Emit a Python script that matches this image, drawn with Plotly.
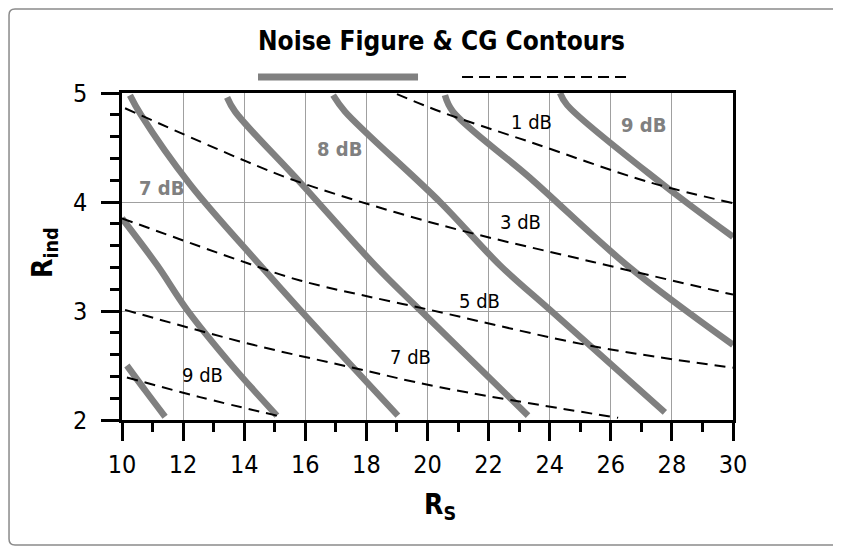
import plotly.graph_objects as go

# Noise figure contours (thick gray), (Rs, Rind) pairs
nf_6db_x = [10.16, 10.79, 11.41]
nf_6db_y = [2.50, 2.26, 2.03]
nf_a_x = [10.0, 11.15, 12.13, 13.60, 15.07]
nf_a_y = [3.85, 3.42, 3.01, 2.50, 2.04]
nf_b_x = [10.26, 10.62, 12.23, 14.52, 15.83, 19.03]
nf_b_y = [4.98, 4.80, 4.16, 3.42, 3.01, 2.04]
nf_c_x = [13.44, 13.70, 15.83, 18.28, 19.75, 23.29]
nf_c_y = [4.96, 4.83, 4.18, 3.42, 3.01, 2.04]
nf_d_x = [16.91, 17.30, 20.41, 22.37, 24.01, 27.77]
nf_d_y = [4.98, 4.83, 4.00, 3.42, 3.01, 2.07]
nf_e_x = [20.57, 20.83, 23.36, 26.53, 30.0]
nf_e_y = [4.98, 4.83, 4.22, 3.42, 2.69]
nf_f_x = [24.34, 24.57, 27.71, 30.0]
nf_f_y = [5.0, 4.89, 4.16, 3.68]

# Conversion gain contours (dashed black)
cg_1db_x = [19.0, 20.41, 23.36, 27.28, 30.0]
cg_1db_y = [4.99, 4.83, 4.55, 4.18, 3.99]
cg_3db_x = [10.1, 14.09, 15.83, 20.41, 25.42, 30.0]
cg_3db_y = [4.86, 4.37, 4.18, 3.79, 3.45, 3.15]
cg_5db_x = [10.0, 14.09, 15.83, 20.08, 25.55, 30.0]
cg_5db_y = [3.85, 3.44, 3.28, 3.01, 2.67, 2.48]
cg_7db_x = [10.1, 14.29, 17.56, 20.41, 26.24]
cg_7db_y = [3.01, 2.69, 2.48, 2.30, 2.02]
cg_9db_x = [10.16, 12.55, 15.07]
cg_9db_y = [2.39, 2.21, 2.04]

nf_labels = ["6 dB", "7 dB", "8 dB", "9 dB"]
nf_label_x = [8.79, 11.30, 17.12, 27.08]
nf_label_y = [2.55, 4.13, 4.49, 4.71]
cg_labels = ["1 dB", "3 dB", "5 dB", "7 dB", "9 dB"]
cg_label_x = [23.42, 23.03, 21.70, 19.45, 12.62]
cg_label_y = [4.73, 3.82, 3.09, 2.58, 2.41]

FONT = "Noto Sans Condensed, DejaVu Sans Condensed, Liberation Sans Narrow, sans-serif"
GRAY = "#808080"

fig = go.Figure()

for xs, ys in [(nf_6db_x, nf_6db_y), (nf_a_x, nf_a_y), (nf_b_x, nf_b_y),
               (nf_c_x, nf_c_y), (nf_d_x, nf_d_y), (nf_e_x, nf_e_y),
               (nf_f_x, nf_f_y)]:
    fig.add_trace(go.Scatter(
        x=xs, y=ys, mode="lines",
        line=dict(color=GRAY, width=6.5, shape="spline"),
        showlegend=False, hoverinfo="skip",
    ))

for xs, ys in [(cg_1db_x, cg_1db_y), (cg_3db_x, cg_3db_y), (cg_5db_x, cg_5db_y),
               (cg_7db_x, cg_7db_y), (cg_9db_x, cg_9db_y)]:
    fig.add_trace(go.Scatter(
        x=xs, y=ys, mode="lines",
        line=dict(color="black", width=2, dash="11px,7px", shape="spline"),
        showlegend=False, hoverinfo="skip",
    ))

annotations = []
for t, x, y in zip(nf_labels, nf_label_x, nf_label_y):
    annotations.append(dict(x=x, y=y, xref="x", yref="y", text="<b>%s</b>" % t,
                            showarrow=False, font=dict(family=FONT, size=20, color=GRAY)))
for t, x, y in zip(cg_labels, cg_label_x, cg_label_y):
    annotations.append(dict(x=x, y=y, xref="x", yref="y", text=t,
                            showarrow=False, font=dict(family=FONT, size=20, color="black")))

# title and axis titles
annotations.append(dict(x=0.523, y=1.159, xref="paper", yref="paper",
                        xanchor="center", yanchor="middle",
                        text="<b>Noise Figure &amp; CG Contours</b>", showarrow=False,
                        font=dict(family=FONT, size=26, color="black")))
annotations.append(dict(x=0.52, y=-0.266, xref="paper", yref="paper",
                        xanchor="center", yanchor="middle",
                        text="<b>R<sub>S</sub></b>", showarrow=False,
                        font=dict(family=FONT, size=28, color="black")))
annotations.append(dict(x=-0.126, y=0.511, xref="paper", yref="paper",
                        xanchor="center", yanchor="middle",
                        text="<b>R<sub>ind</sub></b>", showarrow=False, textangle=-90,
                        font=dict(family=FONT, size=28, color="black")))

# legend lines and page frame (rounded corners)
x0, x1, y0, y1 = -0.1849, 1.1718, -0.3823, 1.2569
rx, ry = 0.0098, 0.0183
frame = (f"M {x0 + rx},{y1} L {x1 - rx},{y1} Q {x1},{y1} {x1},{y1 - ry} "
         f"L {x1},{y0 + ry} Q {x1},{y0} {x1 - rx},{y0} L {x0 + rx},{y0} "
         f"Q {x0},{y0} {x0},{y0 + ry} L {x0},{y1 - ry} Q {x0},{y1} {x0 + rx},{y1} Z")
shapes = [
    dict(type="line", xref="paper", yref="paper", x0=0.2226, x1=0.4845, y0=1.049, y1=1.049,
         line=dict(color=GRAY, width=7)),
    dict(type="line", xref="paper", yref="paper", x0=0.5565, x1=0.8265, y0=1.049, y1=1.049,
         line=dict(color="black", width=2, dash="11px,6px")),
    dict(type="path", xref="paper", yref="paper", path=frame,
         line=dict(color="#8a8a8a", width=1.5)),
]

axis_common = dict(
    showline=True, linecolor="black", linewidth=2.5, mirror=True,
    ticks="outside", ticklen=18, tickwidth=2.5, tickcolor="black",
    showgrid=True, gridcolor="#a0a0a0", gridwidth=1, zeroline=False,
    tickfont=dict(family=FONT, size=25, color="black"),
)

fig.update_xaxes(range=[10, 30], tick0=10, dtick=2, ticklabelstandoff=2,
                 minor=dict(dtick=1, ticks="outside", ticklen=9, tickwidth=2.5,
                            tickcolor="black", showgrid=False),
                 **axis_common)
fig.update_yaxes(range=[2, 5], tick0=2, dtick=1, ticklabelstandoff=9,
                 minor=dict(dtick=0.2, ticks="outside", ticklen=9, tickwidth=2.5,
                            tickcolor="black", showgrid=False),
                 **axis_common)

# the page body adds an 8px margin, so the figure is shrunk to fit the window
fig.update_layout(
    width=833, height=539,
    margin=dict(l=114, r=108, t=85, b=127),
    plot_bgcolor="white", paper_bgcolor="white",
    annotations=annotations, shapes=shapes,
    showlegend=False,
)

fig.write_html("out.html")
